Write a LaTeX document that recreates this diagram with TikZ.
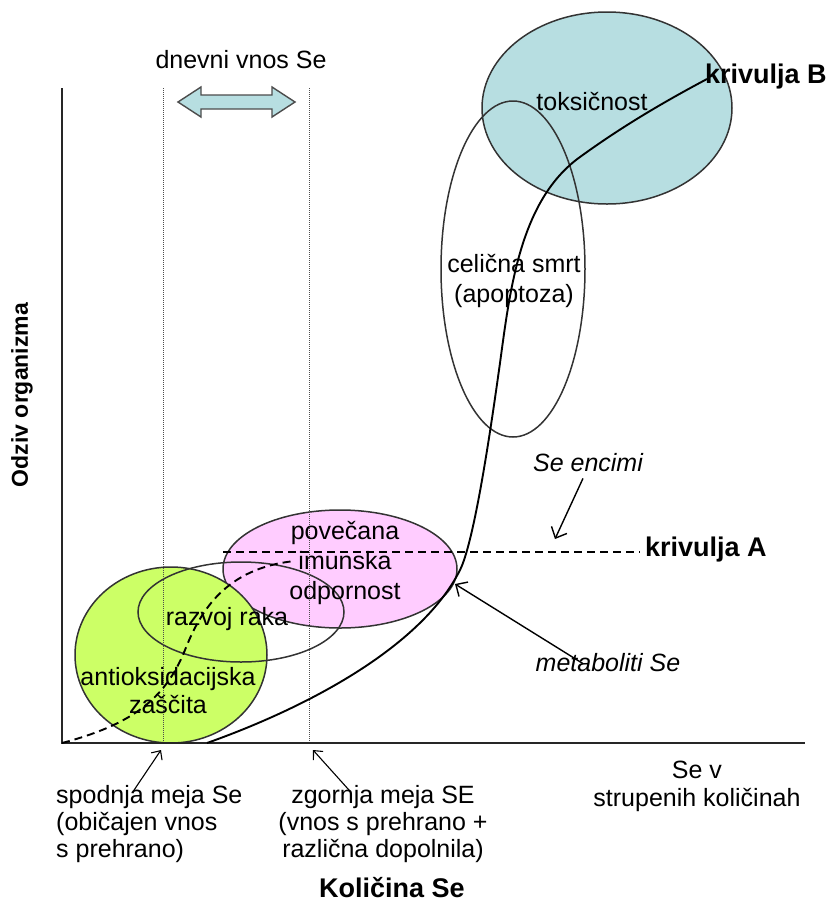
\documentclass[tikz,border=0pt]{standalone}
\usepackage{fontspec}
\setmainfont{Liberation Sans}
\usetikzlibrary{arrows.meta}
\definecolor{toxblue}{HTML}{B7DEE1}
\definecolor{immpink}{HTML}{FFCCFF}
\definecolor{antigreen}{HTML}{CCFF66}
\tikzset{
  lbl/.style={font=\fontsize{25}{30}\selectfont, inner sep=0pt, align=center},
  boldlbl/.style={font=\fontsize{27}{32}\selectfont\bfseries, inner sep=0pt},
  blob/.style={draw=black!80, line width=1.5pt},
  pointer/.style={line width=1.4pt, -{Straight Barb[length=9pt,width=17pt,line width=1.4pt]}},
  smallpointer/.style={line width=1.1pt, -{Straight Barb[length=7pt,width=13pt,line width=1.1pt]}},
  curve/.style={line width=1.9pt, black}
}
\begin{document}
\begin{tikzpicture}[x=1pt,y=-1pt]
    \useasboundingbox (0,0) rectangle (832,906);
    % Regions
    \fill[toxblue] (607,108) ellipse [x radius=125pt, y radius=96pt];
    \draw[blob] (607,108) ellipse [x radius=125pt, y radius=96pt];
    \draw[blob] (513,269) ellipse [x radius=72pt, y radius=168pt];
    \filldraw[immpink, blob] (340,569) ellipse [x radius=117pt, y radius=59pt];
    \filldraw[antigreen, blob] (171,655) ellipse [x radius=96pt, y radius=88pt];
    \draw[blob] (241,612) ellipse [x radius=103pt, y radius=50pt];

    % Daily intake limits
    \draw[black!70, densely dotted, line width=1pt] (163,88) -- (163,743);
    \draw[black!70, densely dotted, line width=1pt] (309,88) -- (309,743);
    \filldraw[fill=toxblue, draw=black!70, line width=1.4pt] (178,102) -- (201,87) -- (201,95) -- (272,95) -- (272,87) -- (295,102) -- (272,117) -- (272,109) -- (201,109) -- (201,117) -- cycle;
    \node[lbl] (intake) at (241,60) {dnevni vnos Se};

    % Axes
    \draw[line width=1.8pt, black!85] (62,88) -- (62,743) -- (805,743);

    % Curves
    \draw[curve, dash pattern=on 8pt off 5pt] (62,743) .. controls (130,725) and (165,700) .. (185,650) .. controls (200,612) and (225,568) .. (295,561);
    \draw[curve, dash pattern=on 8pt off 5pt] (223,552) -- (640,552);
    \draw[curve] (207,743) .. controls (300,710) and (420,650) .. (460,570) .. controls (475,540) and (492,420) .. (500,363) .. controls (510,290) and (520,200) .. (580,157) .. controls (620,128) and (660,104) .. (707,79);

    % Labels
    \node[lbl] (tox) at (592,102) {toksičnost};
    \node[lbl] (apopt) at (514,281) {celična smrt\\(apoptoza)};
    \node[lbl] (immune) at (345,563) {povečana\\imunska\\odpornost};
    \node[lbl] (cancer) at (227,619) {razvoj raka};
    \node[lbl, font=\fontsize{25}{28}\selectfont] (antiox) at (168,691) {antioksidacijska\\zaščita};
    \node[boldlbl, anchor=west] (curveB) at (705,77) {krivulja B};
    \node[boldlbl, anchor=west] (curveA) at (645,550) {krivulja A};
    \node[lbl, font=\fontsize{25}{30}\selectfont\itshape] (encimi) at (588,463) {Se encimi};
    \node[lbl, font=\fontsize{25}{30}\selectfont\itshape] (metab) at (608,663) {metaboliti Se};
    \node[lbl, font=\fontsize{25}{27}\selectfont, align=left, anchor=west] (lower) at (56,824) {spodnja meja Se\\(običajen vnos\\s prehrano)};
    \node[lbl, font=\fontsize{25}{27}\selectfont] (upper) at (383,824) {zgornja meja SE\\(vnos s prehrano +\\različna dopolnila)};
    \node[lbl, font=\fontsize{25}{28}\selectfont] (toxdose) at (697,786) {Se v\\strupenih količinah};
    \node[boldlbl] (xlabel) at (392,888) {Količina Se};
    \node[boldlbl, font=\fontsize{23}{28}\selectfont\bfseries, rotate=90] (ylabel) at (22,395) {Odziv organizma};

    % Pointers
    \coordinate (encimi tip) at (555,539);
    \coordinate (metab tip) at (455,584);
    \coordinate (lower tip) at (161,750);
    \coordinate (upper tip) at (313,750);
    \draw[pointer] ([xshift=-5pt,yshift=-6pt]encimi.south) -- (encimi tip);
    \draw[pointer] ([xshift=-25pt,yshift=-10pt]metab.north) -- (metab tip);
    \draw[smallpointer] ([xshift=-16pt,yshift=-6pt]lower.north) -- (lower tip);
    \draw[smallpointer] ([xshift=-33pt,yshift=-6pt]upper.north) -- (upper tip);
\end{tikzpicture}
\end{document}
